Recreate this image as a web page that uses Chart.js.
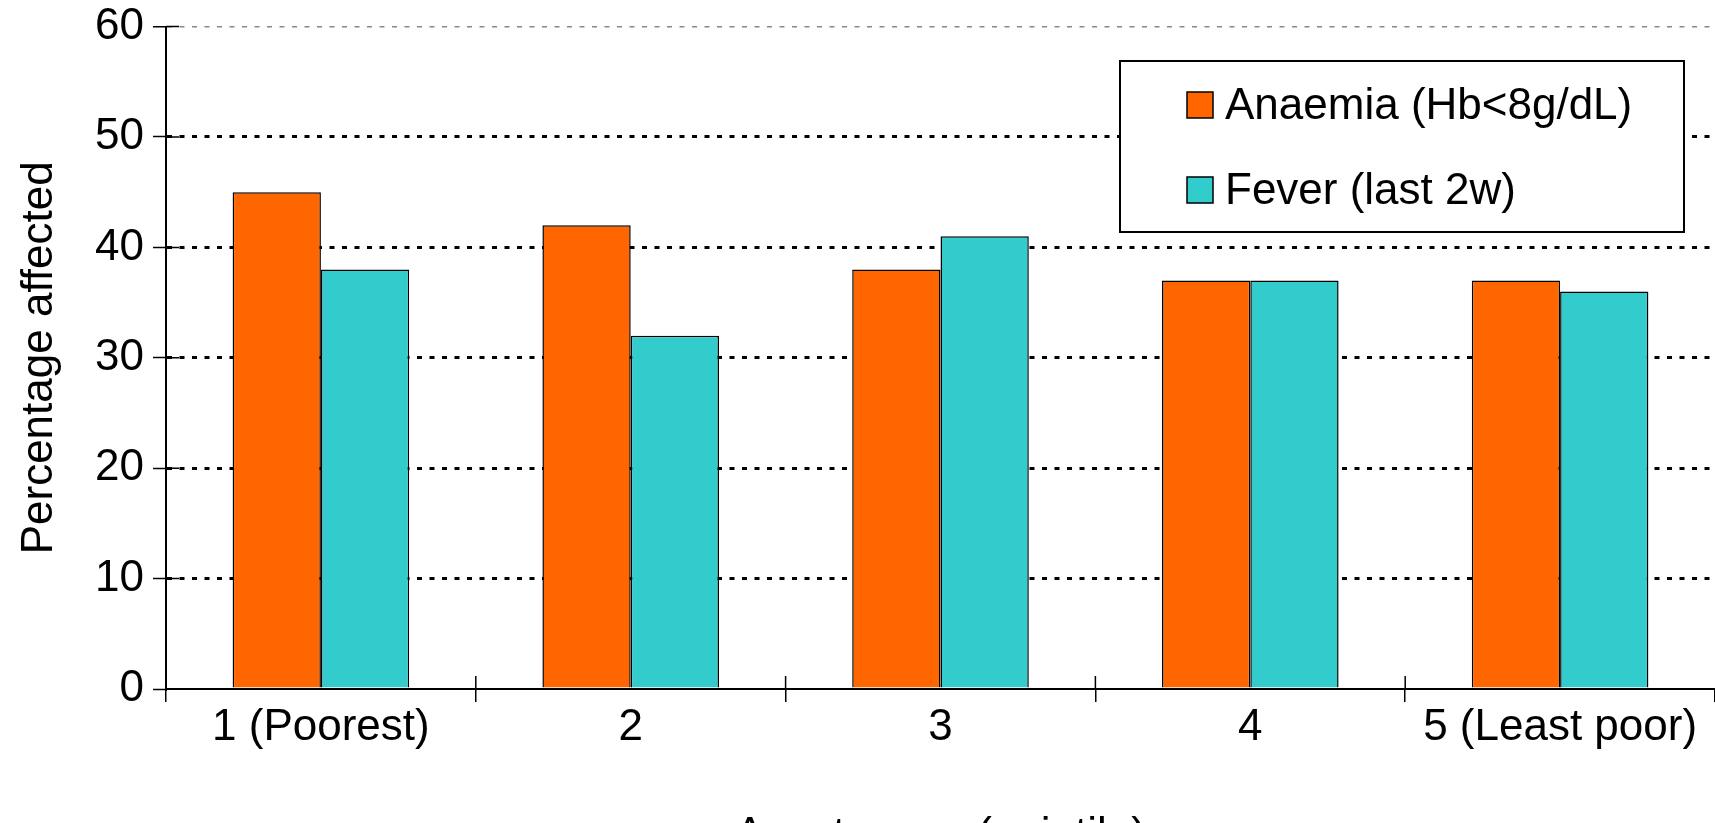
<!DOCTYPE html>
<html>
<head>
<meta charset="utf-8">
<script src="https://cdn.jsdelivr.net/npm/chart.js@4.4.0/dist/chart.umd.min.js"></script>
<style>
  html, body { margin: 0; padding: 0; background: #fff; }
  canvas { display: block; }
</style>
</head>
<body>
<canvas id="quintileChart" width="1715" height="823"></canvas>
<script>
const quintiles = ["1 (Poorest)", "2", "3", "4", "5 (Least poor)"];
const anaemia = [45, 42, 38, 37, 37];
const fever = [38, 32, 41, 37, 36];
const seriesNames = ["Anaemia (Hb<8g/dL)", "Fever (last 2w)"];
const yTicks = [0, 10, 20, 30, 40, 50, 60];

const FONT = "'Liberation Sans', Arial, sans-serif";

// ticks that cross into the plot area
const crossTicks = {
  id: "crossTicks",
  afterDatasetsDraw(chart) {
    const { ctx, chartArea, scales: { x, y } } = chart;
    ctx.save();
    ctx.strokeStyle = "#000";
    ctx.lineWidth = 1.5;
    ctx.beginPath();
    for (let i = 1; i < quintiles.length; i++) {
      const px = (x.getPixelForValue(i - 1) + x.getPixelForValue(i)) / 2;
      ctx.moveTo(px, chartArea.bottom - 13);
      ctx.lineTo(px, chartArea.bottom);
    }
    y.ticks.forEach(t => {
      const py = y.getPixelForValue(t.value);
      ctx.moveTo(chartArea.left, py);
      ctx.lineTo(chartArea.left + 13, py);
    });
    ctx.stroke();
    ctx.restore();
  }
};

// legend in a framed box, top right
const boxedLegend = {
  id: "boxedLegend",
  afterDraw(chart) {
    const ctx = chart.ctx;
    const bx = 1120, by = 61, bw = 564, bh = 171;
    ctx.save();
    ctx.fillStyle = "#fff";
    ctx.fillRect(bx, by, bw, bh);
    ctx.lineWidth = 2;
    ctx.strokeStyle = "#000";
    ctx.strokeRect(bx, by, bw, bh);
    chart.data.datasets.forEach((ds, i) => {
      const cy = by + 44 + i * 85;
      ctx.fillStyle = ds.backgroundColor;
      ctx.fillRect(bx + 67, cy - 13, 26, 26);
      ctx.lineWidth = 1.5;
      ctx.strokeRect(bx + 67, cy - 13, 26, 26);
      ctx.fillStyle = "#000";
      ctx.font = "44px " + FONT;
      ctx.textBaseline = "middle";
      ctx.fillText(ds.label, bx + 105, cy + 2);
    });
    ctx.restore();
  }
};

function gridColor(ctx) {
  if (!ctx.tick) return "#000";
  if (ctx.tick.value === 0) return "rgba(0,0,0,0)";
  return ctx.tick.value === 60 ? "#888" : "#000";
}

new Chart(document.getElementById("quintileChart"), {
  type: "bar",
  data: {
    labels: quintiles,
    datasets: [
      {
        label: seriesNames[0],
        data: anaemia,
        backgroundColor: "#FF6600",
        borderColor: "#000",
        borderWidth: 1.5,
        categoryPercentage: 0.57,
        barPercentage: 1
      },
      {
        label: seriesNames[1],
        data: fever,
        backgroundColor: "#33CCCC",
        borderColor: "#000",
        borderWidth: 1.5,
        categoryPercentage: 0.57,
        barPercentage: 1
      }
    ]
  },
  options: {
    responsive: false,
    animation: false,
    layout: { padding: { top: 26, right: 0 } },
    plugins: {
      legend: { display: false },
      tooltip: { enabled: false }
    },
    scales: {
      x: {
        afterFit(scale) { scale.height = 134; },
        grid: {
          offset: true,
          drawOnChartArea: false,
          color: "#000",
          lineWidth: 1.5,
          tickLength: 13
        },
        border: { color: "#000", width: 2 },
        ticks: {
          color: "#000",
          font: { family: FONT, size: 44 },
          padding: -1,
          maxRotation: 0
        },
        title: {
          display: true,
          text: "Asset score (quintile)",
          color: "#000",
          font: { family: FONT, size: 44, lineHeight: 1 },
          padding: { top: 0, bottom: -35 }
        }
      },
      y: {
        min: 0,
        max: 60,
        afterFit(scale) { scale.width = 166; },
        afterBuildTicks(scale) {
          scale.ticks = yTicks.map(v => ({ value: v }));
        },
        grid: {
          color: gridColor,
          lineWidth: ctx => (ctx.tick && ctx.tick.value === 60 ? 1.5 : 3),
          tickLength: 13,
          tickColor: "#000",
          tickWidth: 1.5,
          tickBorderDash: []
        },
        border: { color: "#000", width: 2, dash: [5, 7.5] },
        ticks: {
          color: "#000",
          font: { family: FONT, size: 44, lineHeight: 0.8 },
          padding: 9
        },
        title: {
          display: true,
          text: "Percentage affected",
          color: "#000",
          font: { family: FONT, size: 44, lineHeight: 1 },
          padding: { top: 18, bottom: 0 }
        }
      }
    }
  },
  plugins: [crossTicks, boxedLegend]
});
</script>
</body>
</html>
